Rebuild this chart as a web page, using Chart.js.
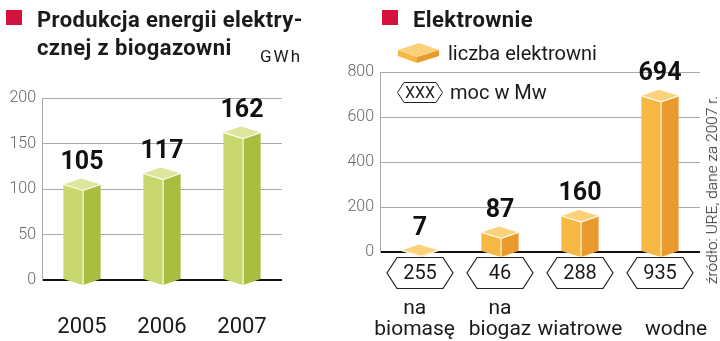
<!DOCTYPE html>
<html>
<head>
  <title>Biogazownie i elektrownie</title>
  <script src="https://cdn.jsdelivr.net/npm/chart.js"></script>
  <style>
    body {
      margin: 0;
      width: 720px;
      height: 341px;
      position: relative;
      overflow: hidden;
      background: #fff;
      font-family: Roboto, sans-serif;
      color: #1a1a1a;
    }

    canvas {
      position: absolute;
      top: 0;
    }

    .mark {
      position: absolute;
      width: 16px;
      height: 15px;
      background: #d3123d;
    }

    .title {
      position: absolute;
      font-size: 22px;
      line-height: 28px;
      font-weight: bold;
      letter-spacing: 0.4px;
      white-space: nowrap;
    }

    .note {
      position: absolute;
      font-size: 20px;
      line-height: 20px;
      white-space: nowrap;
    }

    #source {
      position: absolute;
      left: 712px;
      top: 190px;
      transform: translate(-50%, -50%) rotate(-90deg);
      font-size: 15.5px;
      font-weight: 300;
      color: #222;
      white-space: nowrap;
    }
  </style>
</head>
<body>
  <canvas id="biogasChart" width="320" height="341" style="left:0"></canvas>
  <canvas id="plantsChart" width="400" height="341" style="left:320px"></canvas>

  <div class="mark" style="left:6px; top:10px"></div>
  <div class="title" style="left:37px; top:6px">Produkcja energii elektry-<br>cznej z biogazowni</div>
  <div class="note" style="left:260px; top:46px; font-size:17px; letter-spacing:2px">GWh</div>

  <div class="mark" style="left:382px; top:10px"></div>
  <div class="title" style="left:413px; top:6px">Elektrownie</div>

  <svg style="position:absolute; left:397px; top:42px" width="44" height="22">
    <polygon points="1,8 20,15 20,21 1,14" fill="#f6b843"/>
    <polygon points="20,15 42,8 42,14 20,21" fill="#e99a2c"/>
    <polygon points="1,8 22,1 42,8 20,15" fill="#fbd27a"/>
  </svg>
  <div class="note" style="left:448px; top:43px">liczba elektrowni</div>

  <svg style="position:absolute; left:397px; top:82px" width="46" height="21">
    <polygon points="0.5,10.5 7,0.5 39,0.5 45.5,10.5 39,20.5 7,20.5" fill="#fff" stroke="#222" stroke-width="1"/>
    <text x="23" y="16" text-anchor="middle" font-family="Roboto" font-size="16" fill="#222">XXX</text>
  </svg>
  <div class="note" style="left:450px; top:82px">moc w Mw</div>

  <div id="source">źródło: URE, dane za 2007 r.</div>

  <script>
    // Produkcja energii z biogazowni (GWh)
    const years = ["2005", "2006", "2007"];
    const biogasGWh = [105, 117, 162];

    // Elektrownie: liczba i moc (en spaces nudge a couple of labels sideways)
    const plantTypes = [["na\u2002", "biomasę\u2002"], ["na", "biogaz"], ["", "wiatrowe"], ["", "\u2003\u2002wodne"]];
    const plantCount = [7, 87, 160, 694];
    const plantPowerMw = [255, 46, 288, 935];

    // Paints each bar as a small box: two side faces and a diamond lid
    const boxBars = {
      id: "boxBars",
      afterDatasetsDraw(chart, args, opts) {
        const ctx = chart.ctx;
        const values = chart.data.datasets[0].data;
        const d = opts.depth;
        ctx.save();
        chart.getDatasetMeta(0).data.forEach((bar, i) => {
          const { x, y, base, width } = bar.getProps(["x", "y", "base", "width"], true);
          const L = x - width / 2;
          const R = x + width / 2;
          const F = L + width * 0.53;
          const B = L + R - F;

          ctx.fillStyle = opts.leftFace;
          ctx.beginPath();
          ctx.moveTo(L, y);
          ctx.lineTo(F, y + d);
          ctx.lineTo(F, base + d);
          ctx.lineTo(L, base);
          ctx.closePath();
          ctx.fill();

          ctx.fillStyle = opts.rightFace;
          ctx.beginPath();
          ctx.moveTo(F, y + d);
          ctx.lineTo(R, y);
          ctx.lineTo(R, base);
          ctx.lineTo(F, base + d);
          ctx.closePath();
          ctx.fill();

          ctx.fillStyle = opts.lid;
          ctx.beginPath();
          ctx.moveTo(L, y);
          ctx.lineTo(B, y - d);
          ctx.lineTo(R, y);
          ctx.lineTo(F, y + d);
          ctx.closePath();
          ctx.fill();

          ctx.strokeStyle = "rgba(255,255,255,0.9)";
          ctx.lineWidth = 1.2;
          ctx.beginPath();
          ctx.moveTo(L, y);
          ctx.lineTo(F, y + d);
          ctx.lineTo(R, y);
          ctx.moveTo(F, y + d);
          ctx.lineTo(F, base + d);
          ctx.stroke();

          ctx.fillStyle = "#111";
          ctx.font = "bold 25px Roboto";
          ctx.textAlign = "center";
          ctx.textBaseline = "middle";
          ctx.fillText(values[i], x, y - 22);
        });
        ctx.restore();
      }
    };

    // Hexagon badges with installed power under each category
    const powerBadges = {
      id: "powerBadges",
      afterDraw(chart, args, opts) {
        if (!opts.values) return;
        const ctx = chart.ctx;
        const xScale = chart.scales.x;
        const cy = chart.chartArea.bottom + 21;
        const w = 66, h = 31, tip = 10;
        ctx.save();
        opts.values.forEach((v, i) => {
          const cx = xScale.getPixelForValue(i);
          ctx.beginPath();
          ctx.moveTo(cx - w / 2, cy);
          ctx.lineTo(cx - w / 2 + tip, cy - h / 2);
          ctx.lineTo(cx + w / 2 - tip, cy - h / 2);
          ctx.lineTo(cx + w / 2, cy);
          ctx.lineTo(cx + w / 2 - tip, cy + h / 2);
          ctx.lineTo(cx - w / 2 + tip, cy + h / 2);
          ctx.closePath();
          ctx.fillStyle = "#fff";
          ctx.fill();
          ctx.strokeStyle = "#222";
          ctx.lineWidth = 1.2;
          ctx.stroke();
          ctx.fillStyle = "#1a1a1a";
          ctx.font = "20px Roboto";
          ctx.textAlign = "center";
          ctx.textBaseline = "middle";
          ctx.fillText(v, cx, cy + 1);
        });
        ctx.restore();
      }
    };

    function createChart(canvasId, labels, values, cfg) {
      const ctx = document.getElementById(canvasId).getContext("2d");
      return new Chart(ctx, {
        type: "bar",
        data: {
          labels: labels,
          datasets: [{
            data: values,
            backgroundColor: "rgba(0,0,0,0)",
            barPercentage: 0.465,
            categoryPercentage: 1
          }]
        },
        options: {
          responsive: false,
          animation: false,
          layout: { padding: { top: cfg.top, right: cfg.right, bottom: 0, left: 0 } },
          plugins: {
            legend: { display: false },
            tooltip: { enabled: false },
            boxBars: cfg.colors,
            powerBadges: { values: cfg.badges }
          },
          scales: {
            x: {
              grid: { display: false, drawTicks: false },
              border: { display: false },
              ticks: {
                padding: cfg.labelPad,
                autoSkip: false,
                maxRotation: 0,
                minRotation: 0,
                color: "#1a1a1a",
                font: { family: "Roboto", size: cfg.labelSize, lineHeight: 1 }
              },
              afterFit: scale => {
                // the large label padding should only push labels down, not squeeze the plot
                scale.height = 341 - cfg.bottom;
                scale.paddingLeft = 0;
                scale.paddingRight = 0;
              }
            },
            y: {
              min: 0,
              max: cfg.max,
              ticks: {
                stepSize: cfg.step,
                padding: 6,
                color: "#666",
                font: { family: "Roboto", size: 16, weight: "300" }
              },
              grid: {
                drawTicks: false,
                color: c => c.tick.value === 0 ? "#111" : "#aaa",
                lineWidth: c => c.tick.value === 0 ? 2 : 1
              },
              border: { color: "#aaa" },
              afterFit: scale => { scale.width = cfg.axisWidth; }
            }
          }
        },
        plugins: [boxBars, powerBadges]
      });
    }

    createChart("biogasChart", years, biogasGWh, {
      top: 98, right: 38, bottom: 280, axisWidth: 42, labelPad: 36, labelSize: 22,
      max: 200, step: 50,
      colors: { depth: 6, leftFace: "#c8d86e", rightFace: "#abbd3e", lid: "#dde69a" }
    });

    createChart("plantsChart", plantTypes, plantCount, {
      top: 72, right: 20, bottom: 252, axisWidth: 60, labelPad: 46, labelSize: 21,
      max: 800, step: 200,
      colors: { depth: 6, leftFace: "#f6b843", rightFace: "#e99a2c", lid: "#fbd27a" },
      badges: plantPowerMw
    });
  </script>
</body>
</html>
